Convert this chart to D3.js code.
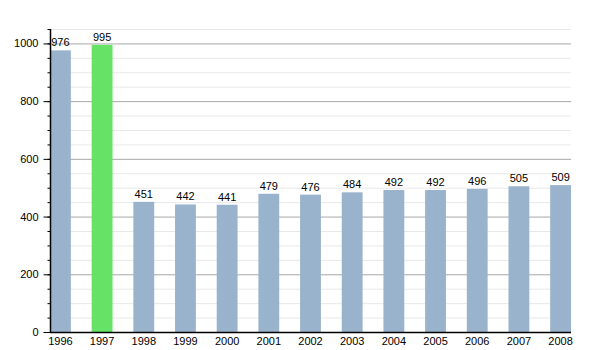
<!DOCTYPE html>
<html><head><meta charset="utf-8">
<script src="https://cdn.jsdelivr.net/npm/d3@7"></script>
<style>body{margin:0;background:#fff}svg{display:block}text{font-family:"Liberation Sans",Arial,sans-serif}</style>
</head><body><svg id="c" width="600" height="350"></svg>
<script>
const years = ["1996","1997","1998","1999","2000","2001","2002","2003","2004","2005","2006","2007","2008"];
const values = [976,995,451,442,441,479,476,484,492,492,496,505,509];
const highlight = ["1997"];
const majorTicks = [0,200,400,600,800,1000];

const svg = d3.select("#c");
const L = 50, R = 571, T = 29, B = 332;
const x = d3.scaleBand().domain(years).range([L, R]).paddingInner(0.5).paddingOuter(0);
const y = d3.scaleLinear().domain([0, 1050]).range([B, T]);
const minor = d3.range(0, 1051, 50);

// minor grid
svg.append("g").selectAll("line").data(minor.filter(v => v % 200 !== 0)).join("line")
  .attr("x1", L).attr("x2", R).attr("y1", d => y(d) + 0.5).attr("y2", d => y(d) + 0.5)
  .attr("stroke", "#e8e8e8").attr("stroke-width", 1);
// major grid
svg.append("g").selectAll("line").data(majorTicks.filter(v => v > 0)).join("line")
  .attr("x1", L).attr("x2", R).attr("y1", d => y(d) + 0.5).attr("y2", d => y(d) + 0.5)
  .attr("stroke", "#a8a8a8").attr("stroke-width", 1);

// bars
svg.append("g").selectAll("rect").data(years).join("rect")
  .attr("x", d => x(d)).attr("width", x.bandwidth())
  .attr("y", (d, i) => y(values[i])).attr("height", (d, i) => B - y(values[i]))
  .attr("fill", d => highlight.includes(d) ? "#66e266" : "#9ab3cc");

// value labels
svg.append("g").selectAll("text").data(years).join("text")
  .attr("x", d => x(d) + x.bandwidth() / 2).attr("y", (d, i) => y(values[i]) - 4)
  .attr("text-anchor", "middle").attr("font-size", 11).attr("fill", "#000")
  .text((d, i) => values[i]);

// y axis with minor ticks
const yAxisMinor = d3.axisLeft(y).tickValues(minor).tickSize(3).tickFormat("");
svg.append("g").attr("transform", `translate(${L + 0.5},0)`).call(yAxisMinor)
  .call(g => g.select(".domain").remove())
  .call(g => g.selectAll("line").attr("stroke", "#000"));
const yAxis = d3.axisLeft(y).tickValues(majorTicks).tickSize(7).tickPadding(5).tickFormat(d3.format("d"));
svg.append("g").attr("transform", `translate(${L + 0.5},0)`).call(yAxis)
  .call(g => g.select(".domain").remove())
  .call(g => g.selectAll("line").attr("stroke", "#000"))
  .call(g => g.selectAll("text").attr("font-size", 11).attr("fill", "#000").attr("font-family", "Liberation Sans, Arial, sans-serif"));
svg.append("line").attr("x1", L + 0.5).attr("x2", L + 0.5).attr("y1", T).attr("y2", B + 1)
  .attr("stroke", "#000").attr("stroke-width", 1.5);

// x axis
const xAxis = d3.axisBottom(x).tickSize(0).tickPadding(5);
svg.append("g").attr("transform", `translate(0,${B})`).call(xAxis)
  .call(g => g.select(".domain").remove())
  .call(g => g.selectAll("text").attr("font-size", 11).attr("fill", "#000").attr("font-family", "Liberation Sans, Arial, sans-serif"));
svg.append("line").attr("x1", L).attr("x2", R).attr("y1", B + 0.5).attr("y2", B + 0.5)
  .attr("stroke", "#000").attr("stroke-width", 1.5);
</script></body></html>
